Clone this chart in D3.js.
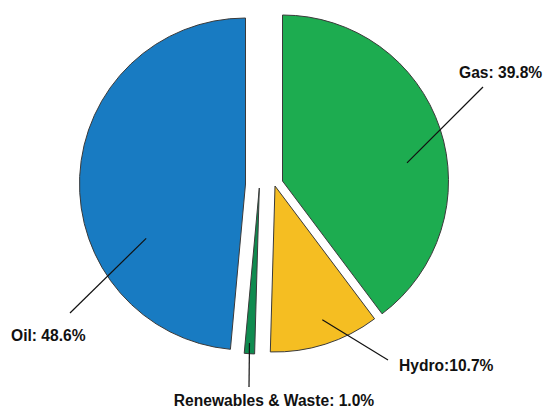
<!DOCTYPE html>
<html>
<head>
<meta charset="utf-8">
<script src="https://cdn.jsdelivr.net/npm/d3@7"></script>
<style>
  html, body { margin: 0; padding: 0; background: #ffffff; }
  svg { display: block; }
  .lbl { font-family: "Liberation Sans", Arial, sans-serif; font-weight: bold; font-size: 15.6px; fill: #111; }
</style>
</head>
<body>
<svg id="chart" width="543" height="408"></svg>
<script>
// Energy mix shares (percent), clockwise from 12 o'clock
const categories = ["Gas", "Hydro", "Renewables & Waste", "Oil"];
const shares = [39.8, 10.7, 1.0, 48.6];
const labelTexts = ["Gas: 39.8%", "Hydro:10.7%", "Renewables & Waste: 1.0%", "Oil: 48.6%"];

// Styling and layout
const colors = ["#1dac50", "#f5be22", "#0f8b4f", "#187bc2"];
const centre = [264, 184];
const radius = 166;
// each slice is pulled away from the centre by its own shift [dx, dy]
const sliceShift = [[18.5, -3], [11, 2], [-4.7, 4], [-18.5, 0]];
// leader start: fraction across the slice's angle, fraction of radius
const leaderStart = [[0.571, 0.758], [0.452, 0.855], [0.56, 0.935], [0.321, 0.682]];
// leader end point, text anchor position and alignment
const leaderEnd = [[483, 87], [388, 360], [249, 387], [70, 313]];
const textPos = [[459, 78], [399, 371], [274, 406], [11, 341]];
const textAnchor = ["start", "start", "middle", "start"];

const svg = d3.select("#chart");

const pie = d3.pie().sort(null).value(d => d).startAngle(0).endAngle(2 * Math.PI);
const arcs = pie(shares);
const arc = d3.arc().innerRadius(0).outerRadius(radius);

const slices = svg.append("g")
  .selectAll("g")
  .data(arcs)
  .join("g")
  .attr("transform", (d, i) => `translate(${centre[0] + sliceShift[i][0]},${centre[1] + sliceShift[i][1]})`);

slices.append("path")
  .attr("d", arc)
  .attr("fill", (d, i) => colors[i])
  .attr("stroke", "#3a3a3a")
  .attr("stroke-width", 1)
  .attr("stroke-linejoin", "miter");

// leader lines
const leaders = svg.append("g");
arcs.forEach((d, i) => {
  const a = d.startAngle + (d.endAngle - d.startAngle) * leaderStart[i][0];
  const r = radius * leaderStart[i][1];
  const x0 = centre[0] + sliceShift[i][0] + r * Math.sin(a);
  const y0 = centre[1] + sliceShift[i][1] - r * Math.cos(a);
  leaders.append("line")
    .attr("x1", x0).attr("y1", y0)
    .attr("x2", leaderEnd[i][0]).attr("y2", leaderEnd[i][1])
    .attr("stroke", "#111")
    .attr("stroke-width", 1.2);
});

svg.append("g")
  .selectAll("text")
  .data(labelTexts)
  .join("text")
  .attr("class", "lbl")
  .attr("x", (d, i) => textPos[i][0])
  .attr("y", (d, i) => textPos[i][1])
  .attr("text-anchor", (d, i) => textAnchor[i])
  .text(d => d);
</script>
</body>
</html>
